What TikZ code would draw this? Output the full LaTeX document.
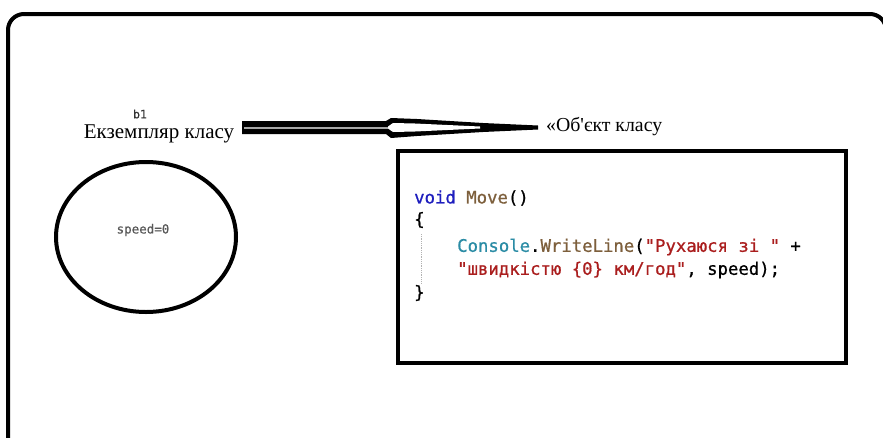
\documentclass[tikz,border=0pt]{standalone}
\usepackage{fontspec}
\usetikzlibrary{shapes.geometric}
\setmainfont{Liberation Serif}
\newfontfamily\codefont[FakeBold=0.8]{DejaVu Sans Mono}
\newfontfamily\smallmono[FakeBold=0.6]{DejaVu Sans Mono}
\definecolor{kwblue}{RGB}{30,30,190}
\definecolor{methbrown}{RGB}{125,95,60}
\definecolor{typeteal}{RGB}{43,140,165}
\definecolor{strred}{RGB}{170,30,30}
\begin{document}
\begin{tikzpicture}[x=1pt,y=-1pt,
  frame/.style={draw=black,line width=4pt},
  label/.style={inner sep=0pt,font=\fontsize{21}{24}\selectfont},
  codeline/.style={anchor=west,inner sep=0pt,font=\codefont\fontsize{17.3}{20}\selectfont}]
\useasboundingbox (0,0) rectangle (883,437);
% outer frame
\draw[frame,rounded corners=16pt] (8,14) rectangle (886,456);
% object ellipse
\node[draw=black,line width=4pt,ellipse,minimum width=180pt,minimum height=150pt,inner sep=0pt] (obj) at (146,237) {};
\node[inner sep=0pt,text=black!65,font=\smallmono\fontsize{12.5}{14}\selectfont] (spd) at (143,230) {speed=0};
\node[inner sep=0pt,font=\smallmono\fontsize{11.5}{13}\selectfont,text=black!80] (b1) at (140,114) {b1};
\node[label] (inst) at (159,134) {Екземпляр класу};
\node[label,anchor=west,font=\fontsize{19.8}{23}\selectfont] (cls) at (546,127) {«Об\textquotesingle єкт класу};
% arrow
\coordinate (as) at (242,127.5);
\coordinate (ae) at (538,127.5);
\fill[black] (242,121) -- (386,121) -- (391,118) -- (417,119) -- (483,123) -- (538,125.5)
  -- (538,129.5) -- (483,132) -- (417,136) -- (391,138) -- (386,134) -- (242,134) -- cycle;
\fill[black!35] (244,126.5) rectangle (388,128.5);
\fill[white] (388,126.5) -- (393,123) -- (415,123.5) -- (480,126.5) -- (480,128.5) -- (415,131.5) -- (393,132) -- (388,128.5) -- cycle;
% code box
\node[draw=black,line width=4pt,minimum width=448pt,minimum height=212pt,inner sep=0pt,anchor=north west] (code) at (396,149) {};
\draw[black!30,densely dotted,line width=0.8pt] (421,234) -- (421,284);
\node[codeline] (l1) at (414,198) {\textcolor{kwblue}{void} \textcolor{methbrown}{Move}()};
\node[codeline] (l2) at (414,220) {\{};
\node[codeline] (l3) at (457,247) {\textcolor{typeteal}{Console}.\textcolor{methbrown}{WriteLine}(\textcolor{strred}{"Рухаюся зі "} +};
\node[codeline] (l4) at (457,270) {\textcolor{strred}{"швидкістю \{0\} км/год"}, speed);};
\node[codeline] (l5) at (414,293) {\}};
\end{tikzpicture}
\end{document}
